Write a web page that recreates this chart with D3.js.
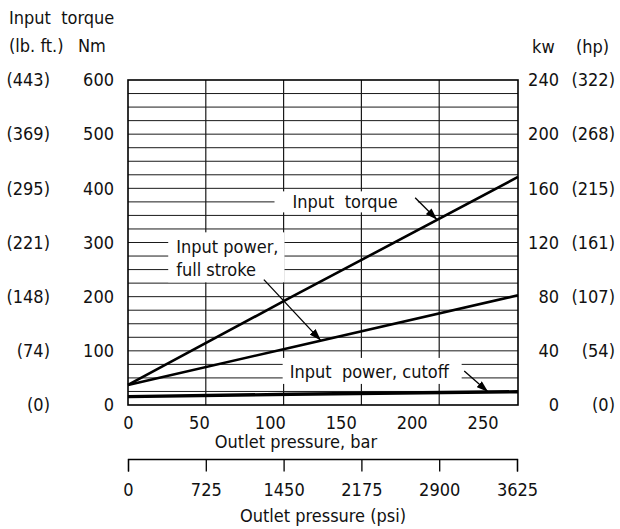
<!DOCTYPE html>
<html lang="en">
<head>
    <meta charset="UTF-8">
    <title>Input torque / input power vs outlet pressure</title>
    <script src="https://d3js.org/d3.v7.min.js"></script>
    <style>
        body {
            margin: 0;
            background: #fff;
        }
        svg text {
            font-family: "DejaVu Sans Condensed", "DejaVu Sans", sans-serif;
            font-stretch: condensed;
            font-size: 18px;
            fill: #111;
        }
    </style>
</head>
<body>
    <svg width="620" height="529"></svg>

    <script>
        // Dados
        const pressureBar = [0, 115, 275];
        const torqueNm = [37, 199, 421];
        const powerFullKw = [14.8, 42.5, 81];
        const powerCutoffKw = [6.2, 7.9, 9.8];

        // Rótulos dos eixos
        const nmTicks = [0, 100, 200, 300, 400, 500, 600];
        const lbftLabels = ["(0)", "(74)", "(148)", "(221)", "(295)", "(369)", "(443)"];
        const kwTicks = [0, 40, 80, 120, 160, 200, 240];
        const hpLabels = ["(0)", "(54)", "(107)", "(161)", "(215)", "(268)", "(322)"];
        const barTicks = [0, 50, 100, 150, 200, 250];
        const psiTicks = [0, 725, 1450, 2175, 2900, 3625];

        // Área de desenho
        const plotLeft = 128, plotRight = 518, plotTop = 80, plotBottom = 405;

        const svg = d3.select("svg");

        // Escalas
        const xBar = d3.scaleLinear().domain([0, 275]).range([plotLeft, plotRight]);
        const xPsi = d3.scaleLinear().domain([0, 3625]).range([plotLeft, plotRight - 1]);
        const yNm = d3.scaleLinear().domain([0, 600]).range([plotBottom, plotTop]);
        const yKw = d3.scaleLinear().domain([0, 240]).range([plotBottom, plotTop]);

        // Grade horizontal (a cada 25 Nm)
        svg.append("g")
            .selectAll("line")
            .data(d3.range(25, 600, 25))
            .join("line")
            .attr("x1", plotLeft).attr("x2", plotRight)
            .attr("y1", d => yNm(d)).attr("y2", d => yNm(d))
            .attr("stroke", "#1a1a1a")
            .attr("stroke-width", 1);

        // Grade vertical (nas marcas de psi)
        svg.append("g")
            .selectAll("line")
            .data(psiTicks.slice(1, -1))
            .join("line")
            .attr("x1", d => xPsi(d)).attr("x2", d => xPsi(d))
            .attr("y1", plotTop).attr("y2", plotBottom)
            .attr("stroke", "#1a1a1a")
            .attr("stroke-width", 1.2);

        // Caixas brancas dos rótulos (interrompem a grade)
        const boxes = svg.append("g");
        const labels = svg.append("g");

        function addLabel(lines, bar, nm, padL, padR, padT, padB) {
            const t = labels.append("text")
                .attr("x", xBar(bar))
                .attr("y", yNm(nm));
            lines.forEach((s, i) => {
                t.append("tspan")
                    .attr("x", xBar(bar))
                    .attr("dy", i === 0 ? 0 : 23)
                    .text(s);
            });
            const b = t.node().getBBox();
            boxes.append("rect")
                .attr("x", b.x - padL)
                .attr("y", b.y - padT)
                .attr("width", b.width + padL + padR)
                .attr("height", b.height + padT + padB)
                .attr("fill", "#fff");
        }

        addLabel(["Input\u00a0 torque"], 116, 363, 18, 20, 0, 0);
        addLabel(["Input power,", "full stroke"], 34, 280, 8, 6, 4, 2);
        addLabel(["Input\u00a0 power, cutoff"], 114, 50, 7, 12, 3, 2);

        // Linhas
        const line = (y, vals) => d3.line()
            .x((d, i) => xBar(pressureBar[i]))
            .y((d, i) => y(vals[i]))(vals);

        svg.append("path")
            .attr("d", line(yNm, torqueNm))
            .attr("fill", "none").attr("stroke", "#000").attr("stroke-width", 2.6);
        svg.append("path")
            .attr("d", line(yKw, powerFullKw))
            .attr("fill", "none").attr("stroke", "#000").attr("stroke-width", 2.6);
        svg.append("path")
            .attr("d", line(yKw, powerCutoffKw))
            .attr("fill", "none").attr("stroke", "#000").attr("stroke-width", 3.4);

        // Setas
        svg.append("defs").append("marker")
            .attr("id", "arrow")
            .attr("markerUnits", "userSpaceOnUse")
            .attr("viewBox", "0 0 12 8")
            .attr("refX", 12).attr("refY", 4)
            .attr("markerWidth", 12).attr("markerHeight", 8)
            .attr("orient", "auto")
            .append("path")
            .attr("d", "M0,0L12,4L0,8z")
            .attr("fill", "#000");

        const onSeries = (vals, y, bar) =>
            y(d3.scaleLinear().domain(pressureBar).range(vals)(bar));

        function addArrow(vals, y, bar, dx, dy) {
            const x2 = xBar(bar), y2 = onSeries(vals, y, bar);
            svg.append("line")
                .attr("x1", x2 + dx).attr("y1", y2 + dy)
                .attr("x2", x2).attr("y2", y2)
                .attr("stroke", "#000").attr("stroke-width", 1.3)
                .attr("marker-end", "url(#arrow)");
        }

        addArrow(torqueNm, yNm, 218, -22, -22);
        addArrow(powerFullKw, yKw, 136, -57, -61);
        addArrow(powerCutoffKw, yKw, 254, -24, -21);

        // Moldura
        svg.append("rect")
            .attr("x", plotLeft).attr("y", plotTop)
            .attr("width", plotRight - plotLeft).attr("height", plotBottom - plotTop)
            .attr("fill", "none").attr("stroke", "#000").attr("stroke-width", 1.6);

        // Eixos verticais
        const sideAxis = (scale, x, ticks, fmt) => {
            const axis = d3.axisLeft(scale).tickValues(ticks).tickSize(0).tickPadding(0);
            if (fmt) axis.tickFormat((d, i) => fmt[i]);
            svg.append("g")
                .attr("transform", `translate(${x},0)`)
                .call(axis)
                .attr("font-family", null).attr("font-size", null)
                .call(g => g.select(".domain").remove());
        };

        sideAxis(yNm, 50, nmTicks, lbftLabels);
        sideAxis(yNm, 114, nmTicks);
        sideAxis(yKw, 559, kwTicks);
        sideAxis(yKw, 615, kwTicks, hpLabels);

        // Eixo de pressão em bar
        svg.append("g")
            .attr("transform", `translate(0,${plotBottom})`)
            .call(d3.axisBottom(xBar).tickValues(barTicks).tickSize(0).tickPadding(11))
            .call(g => g.select(".domain").remove())
            .attr("font-family", null).attr("font-size", null);

        // Eixo de pressão em psi
        svg.append("g")
            .attr("transform", `translate(0,459)`)
            .call(d3.axisBottom(xPsi).tickValues(psiTicks).tickFormat(d3.format("d"))
                .tickSize(12.5).tickSizeOuter(12.5).tickPadding(12))
            .attr("font-family", null).attr("font-size", null)
            .call(g => g.selectAll("line, path").attr("stroke", "#000").attr("stroke-width", 1.3));

        // Títulos
        svg.append("text").attr("x", 9).attr("y", 24).text("Input\u00a0 torque");
        svg.append("text").attr("x", 9).attr("y", 52).text("(lb. ft.)");
        svg.append("text").attr("x", 78).attr("y", 52).text("Nm");
        svg.append("text").attr("x", 532).attr("y", 53).text("kw");
        svg.append("text").attr("x", 576).attr("y", 53).text("(hp)");
        svg.append("text").attr("x", 296).attr("y", 448).attr("text-anchor", "middle")
            .text("Outlet pressure, bar");
        svg.append("text").attr("x", 323).attr("y", 522).attr("text-anchor", "middle")
            .text("Outlet pressure (psi)");
    </script>
</body>
</html>
